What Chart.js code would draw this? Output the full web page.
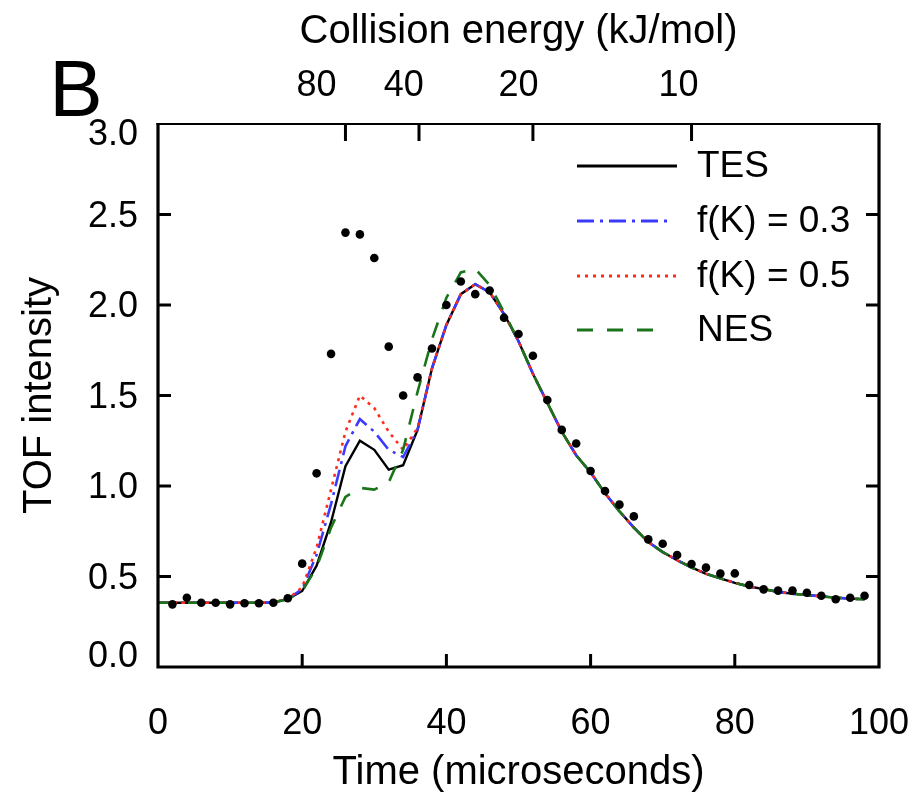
<!DOCTYPE html>
<html><head><meta charset="utf-8">
<script src="https://cdn.jsdelivr.net/npm/chart.js@4"></script>
<style>html,body{margin:0;padding:0;background:#fff}#wrap{width:915px;height:802px}</style>
</head><body><div id="wrap"><canvas id="c" width="915" height="802"></canvas></div>
<script>
// ---- data ----
const timeLine = [0,2,4,6,8,10,12,14,16,18,20,22,24,26,28,30,32,34,36,38,40,42,44,46,48,50,52,54,56,58,60,62,64,66,68,70,72,74,76,78,80,82,84,86,88,90,92,94,96,98];
const tes  = [0.355,0.355,0.355,0.355,0.355,0.355,0.355,0.355,0.357,0.375,0.42,0.56,0.80,1.11,1.25,1.20,1.09,1.115,1.31,1.65,1.89,2.06,2.115,2.07,1.95,1.80,1.62,1.46,1.30,1.17,1.075,0.96,0.86,0.77,0.69,0.635,0.59,0.55,0.515,0.49,0.465,0.445,0.43,0.415,0.405,0.398,0.39,0.383,0.378,0.374];
const fk03 = [0.355,0.355,0.355,0.355,0.355,0.355,0.355,0.355,0.357,0.375,0.43,0.62,0.90,1.22,1.37,1.30,1.20,1.16,1.31,1.65,1.89,2.06,2.115,2.07,1.95,1.80,1.62,1.46,1.30,1.17,1.075,0.96,0.86,0.77,0.69,0.635,0.59,0.55,0.515,0.49,0.465,0.445,0.43,0.415,0.405,0.398,0.39,0.383,0.378,0.374];
const fk05 = [0.355,0.355,0.355,0.355,0.355,0.355,0.355,0.355,0.357,0.376,0.44,0.66,0.98,1.30,1.50,1.43,1.30,1.20,1.32,1.65,1.89,2.06,2.115,2.07,1.95,1.80,1.62,1.46,1.30,1.17,1.075,0.96,0.86,0.77,0.69,0.635,0.59,0.55,0.515,0.49,0.465,0.445,0.43,0.415,0.405,0.398,0.39,0.383,0.378,0.374];
const nes  = [0.355,0.355,0.355,0.355,0.355,0.355,0.355,0.355,0.357,0.374,0.42,0.55,0.77,0.94,0.99,0.98,1.02,1.20,1.52,1.81,2.04,2.18,2.20,2.11,1.96,1.80,1.62,1.46,1.30,1.17,1.075,0.96,0.86,0.77,0.69,0.635,0.59,0.55,0.515,0.49,0.465,0.445,0.43,0.415,0.405,0.398,0.39,0.383,0.378,0.374];
const timeDots = [2,4,6,8,10,12,14,16,18,20,22,24,26,28,30,32,34,36,38,40,42,44,46,48,50,52,54,56,58,60,62,64,66,68,70,72,74,76,78,80,82,84,86,88,90,92,94,96,98];
const expDots  = [0.346,0.383,0.355,0.355,0.346,0.352,0.352,0.355,0.38,0.571,1.07,1.73,2.40,2.39,2.26,1.77,1.50,1.60,1.76,2.00,2.13,2.06,2.08,1.93,1.84,1.72,1.475,1.31,1.235,1.083,0.972,0.897,0.832,0.705,0.681,0.619,0.569,0.549,0.516,0.517,0.453,0.429,0.422,0.422,0.41,0.394,0.374,0.383,0.394];
const seriesNames = ['TES','f(K) = 0.3','f(K) = 0.5','NES'];
const xTicks = [0,20,40,60,80,100];
const yTicks = [0,0.5,1,1.5,2,2.5,3];
const yLabelPos = [0.055,0.488,0.988,1.488,1.988,2.488,2.94];
const energyLabels = ['80','40','20','10'];
const energyTickTime = [26,36.2,52,74];
const energyLabelTime = [22.0,34.1,50.0,72.2];

const FONT = 'Liberation Sans, Arial, sans-serif';
const toXY = (xs, ys) => xs.map((x, i) => ({x, y: ys[i]}));

const styles = [
  {color:'#000000', width:2.4, dash:[]},
  {color:'#3a3aff', width:2.6, dash:[17,6,3,6]},
  {color:'#ff2a1a', width:2.6, dash:[3,5]},
  {color:'#1a741a', width:2.6, dash:[16,14]}
];
const lineSeries = [tes, fk03, fk05, nes];

const datasets = lineSeries.map((vals, i) => ({
  type:'line', label: seriesNames[i], data: toXY(timeLine, vals),
  borderColor: styles[i].color, borderWidth: styles[i].width, borderDash: styles[i].dash,
  pointRadius:0, tension:0, fill:false, borderCapStyle:'butt', order: 4 - i + 1
}));
datasets.push({
  type:'scatter', label:'data', data: toXY(timeDots, expDots),
  backgroundColor:'#000', borderColor:'#000', pointRadius:4.3, borderWidth:0, order:0
});

const noPad = s => { s.paddingLeft = 0; s.paddingRight = 0; s.paddingTop = 0; s.paddingBottom = 0; };

const decor = {
  id:'decor',
  afterDraw(chart){
    const {ctx, chartArea:a, scales:{x, y}} = chart;
    ctx.save();
    ctx.strokeStyle = '#000';
    ctx.lineCap = 'butt';
    // frame
    ctx.lineWidth = 3.2;
    ctx.beginPath();
    ctx.moveTo(a.left, a.top-1); ctx.lineTo(a.left, a.bottom); ctx.lineTo(a.right, a.bottom); ctx.lineTo(a.right, a.top-1);
    ctx.stroke();
    ctx.lineWidth = 2;
    ctx.beginPath(); ctx.moveTo(a.left-1.5, a.top); ctx.lineTo(a.right+1.5, a.top); ctx.stroke();
    // tick marks (inward)
    ctx.lineWidth = 3;
    ctx.beginPath();
    yTicks.forEach(v => {
      if (v === 0 || v === 3) return;
      const py = y.getPixelForValue(v);
      ctx.moveTo(a.left, py); ctx.lineTo(a.left + 13, py);
      ctx.moveTo(a.right, py); ctx.lineTo(a.right - 13, py);
    });
    xTicks.forEach(v => {
      if (v === 0 || v === 100) return;
      const px = x.getPixelForValue(v);
      ctx.moveTo(px, a.bottom); ctx.lineTo(px, a.bottom - 13);
    });
    energyTickTime.forEach(v => {
      const px = x.getPixelForValue(v);
      ctx.moveTo(px, a.top); ctx.lineTo(px, a.top + 17);
    });
    ctx.stroke();
    // panel letter
    ctx.fillStyle = '#000';
    ctx.font = '80px ' + FONT;
    ctx.textAlign = 'center'; ctx.textBaseline = 'alphabetic';
    ctx.fillText('B', 76, 116);
    // legend
    const rows = [166, 221, 276, 330];
    const lens = [100, 94, 100, 86];
    ctx.font = '37px ' + FONT;
    ctx.textAlign = 'left'; ctx.textBaseline = 'middle';
    seriesNames.forEach((name, i) => {
      ctx.strokeStyle = styles[i].color;
      ctx.lineWidth = i === 0 ? 3.2 : 3;
      ctx.setLineDash(styles[i].dash);
      ctx.beginPath(); ctx.moveTo(577, rows[i]); ctx.lineTo(577 + lens[i], rows[i]); ctx.stroke();
      ctx.setLineDash([]);
      ctx.fillStyle = '#000';
      ctx.fillText(name, 697, rows[i] + 1);
    });
    ctx.restore();
  }
};

new Chart(document.getElementById('c'), {
  data: { datasets },
  options: {
    responsive:false, animation:false, devicePixelRatio:1,
    layout:{ padding:{left:0, right:36, top:0, bottom:0} },
    plugins:{ legend:{display:false}, tooltip:{enabled:false} },
    scales:{
      x:{
        type:'linear', position:'bottom', min:0, max:100,
        afterBuildTicks: s => { s.ticks = xTicks.map(v => ({value:v})); },
        afterFit: s => { s.height = 135; noPad(s); },
        grid:{display:false}, border:{display:false},
        ticks:{ color:'#000', font:{family:FONT, size:36}, padding:27, maxRotation:0, autoSkip:false, callback: v => String(v) },
        title:{ display:true, text:'Time (microseconds)', color:'#000', font:{family:FONT, size:40}, padding:{top:0, bottom:5} }
      },
      x2:{
        type:'linear', position:'top', min:0, max:100,
        afterBuildTicks: s => { s.ticks = energyLabelTime.map(v => ({value:v})); },
        afterFit: s => { s.height = 124; noPad(s); },
        grid:{display:false}, border:{display:false},
        ticks:{ color:'#000', font:{family:FONT, size:36}, padding:8, maxRotation:0, autoSkip:false,
          callback: (v, i) => energyLabels[i] },
        title:{ display:true, text:'Collision energy (kJ/mol)', color:'#000', font:{family:FONT, size:40}, padding:{top:8, bottom:0} }
      },
      y:{
        type:'linear', position:'left', min:0, max:3,
        afterBuildTicks: s => { s.ticks = yLabelPos.map(v => ({value:v})); },
        afterFit: s => { s.width = 158; noPad(s); },
        grid:{display:false}, border:{display:false},
        ticks:{ color:'#000', font:{family:FONT, size:36}, padding:12, callback: (v, i) => yTicks[i].toFixed(1) },
        title:{ display:true, text:'TOF intensity', color:'#000', font:{family:FONT, size:40}, padding:{top:16, bottom:0} }
      }
    }
  },
  plugins:[decor]
});
</script>
</body></html>
